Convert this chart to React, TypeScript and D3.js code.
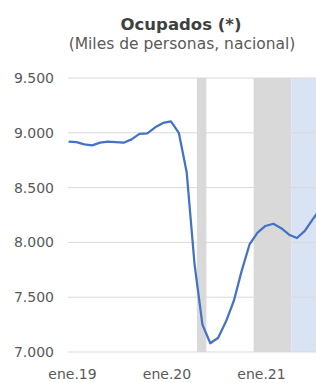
import { useEffect, useRef } from 'react';
import * as d3 from 'd3';

// Ocupados, miles de personas, monthly from ene.19 (moving quarter)
const values = [
  8920, 8915, 8895, 8885, 8910, 8920, 8915, 8910, 8940, 8990, 8995, 9050,
  9090, 9105, 9000, 8640, 7800, 7250, 7080, 7130, 7280, 7470, 7745, 7985,
  8090, 8150, 8170, 8130, 8070, 8040, 8105, 8210, 8310,
];
const yTicks = [7000, 7500, 8000, 8500, 9000, 9500];
const xTickMonths = [0, 12, 24];
const xTickLabels = ['ene.19', 'ene.20', 'ene.21'];
// shaded periods, in months since ene.19
const grayBands = [
  [15.8, 17.0],
  [23.0, 27.8],
];
const blueBands = [[27.8, 34]];

const W = 316;
const H = 383;

export default function App() {
  const ref = useRef<SVGSVGElement>(null);

  useEffect(() => {
    if (!ref.current) return;
    const svg = d3.select(ref.current);
    svg.selectAll('*').remove();

    const font = 'DejaVu Sans, Verdana, sans-serif';
    const left = 68;

    const x = d3.scaleLinear().domain([0, 24]).range([72.5, 261.5]);
    const y = d3.scaleLinear().domain([7000, 9500]).range([352, 78]);

    // Title
    svg.append('text')
      .attr('x', 181)
      .attr('y', 30)
      .attr('text-anchor', 'middle')
      .attr('font-family', font)
      .attr('font-weight', 'bold')
      .attr('font-size', 16.5)
      .attr('fill', '#404040')
      .text('Ocupados (*)');

    svg.append('text')
      .attr('x', 182)
      .attr('y', 49)
      .attr('text-anchor', 'middle')
      .attr('font-family', font)
      .attr('font-size', 15.5)
      .attr('fill', '#595959')
      .text('(Miles de personas, nacional)');

    // Shaded bands
    const bandG = svg.append('g');
    bandG.selectAll('rect.gray')
      .data(grayBands)
      .enter()
      .append('rect')
      .attr('class', 'gray')
      .attr('x', d => x(d[0]))
      .attr('width', d => x(d[1]) - x(d[0]))
      .attr('y', y(9500))
      .attr('height', y(7000) - y(9500))
      .attr('fill', '#d9d9d9');
    bandG.selectAll('rect.blue')
      .data(blueBands)
      .enter()
      .append('rect')
      .attr('class', 'blue')
      .attr('x', d => x(d[0]))
      .attr('width', d => x(d[1]) - x(d[0]))
      .attr('y', y(9500))
      .attr('height', y(7000) - y(9500))
      .attr('fill', '#dae3f3');

    // Gridlines
    svg.append('g')
      .selectAll('line')
      .data(yTicks)
      .enter()
      .append('line')
      .attr('x1', left)
      .attr('x2', W)
      .attr('y1', d => y(d))
      .attr('y2', d => y(d))
      .attr('stroke', '#d9d9d9')
      .attr('stroke-width', 1);

    // Y labels
    svg.append('g')
      .selectAll('text')
      .data(yTicks)
      .enter()
      .append('text')
      .attr('x', 54)
      .attr('y', d => y(d))
      .attr('dy', '0.36em')
      .attr('text-anchor', 'end')
      .attr('font-family', font)
      .attr('font-size', 14)
      .attr('fill', '#595959')
      .text(d => d3.format(',')(d).replace(',', '.'));

    // X labels
    svg.append('g')
      .selectAll('text')
      .data(xTickMonths)
      .enter()
      .append('text')
      .attr('x', d => x(d))
      .attr('y', 379)
      .attr('text-anchor', 'middle')
      .attr('font-family', font)
      .attr('font-size', 14)
      .attr('fill', '#595959')
      .text((_, i) => xTickLabels[i]);

    // Line (points at mid-month)
    const line = d3.line<number>()
      .x((_, i) => x(i - 0.5))
      .y(d => y(d));

    svg.append('path')
      .datum(values)
      .attr('d', line)
      .attr('fill', 'none')
      .attr('stroke', '#4472c4')
      .attr('stroke-width', 2.25)
      .attr('stroke-linejoin', 'round');
  }, []);

  return (
    <svg
      ref={ref}
      width={W}
      height={H}
      style={{ position: 'absolute', left: 0, top: 0, background: '#fff' }}
    />
  );
}
